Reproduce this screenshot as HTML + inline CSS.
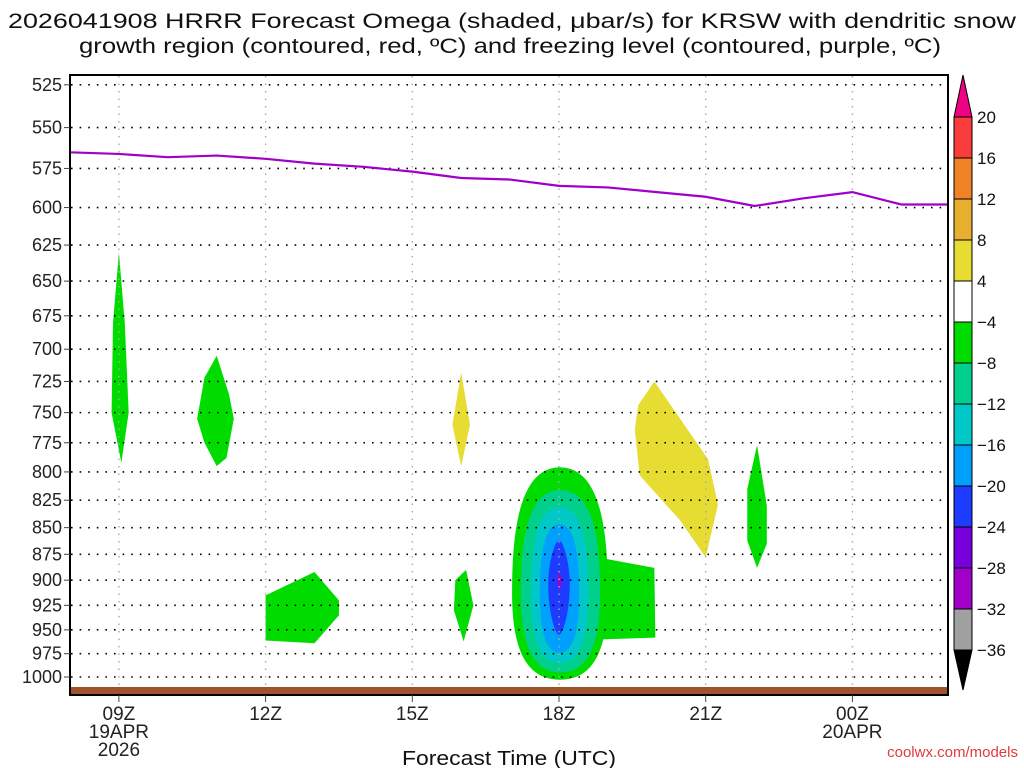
<!DOCTYPE html>
<html><head><meta charset="utf-8"><style>
body{margin:0;background:#fff;}
svg{display:block;font-family:"Liberation Sans",sans-serif;}
</style></head><body>
<svg id="chart" width="1024" height="768" viewBox="0 0 1024 768">
<text x="512" y="28" font-size="21" text-anchor="middle" fill="#111" textLength="1008" lengthAdjust="spacingAndGlyphs">2026041908 HRRR Forecast Omega (shaded, μbar/s) for KRSW with dendritic snow</text>
<text x="510" y="53" font-size="21" text-anchor="middle" fill="#111" textLength="862" lengthAdjust="spacingAndGlyphs">growth region (contoured, red, ºC) and freezing level (contoured, purple, ºC)</text>
<g id="shades"></g>
<g id="grid"></g>
<g id="flines"></g>
<rect x="71" y="687" width="876" height="7" fill="#a0522d"/>
<rect x="70" y="75" width="878" height="620" fill="none" stroke="#000" stroke-width="2"/>
<g id="axes"></g>
<g id="cbar"></g>
<text x="509" y="765" font-size="20" text-anchor="middle" fill="#111" textLength="214" lengthAdjust="spacingAndGlyphs">Forecast Time (UTC)</text>
<text x="1018" y="757" font-size="15" text-anchor="end" fill="#e03c3c">coolwx.com/models</text>
</svg>
<script>
const pLevels=[525,550,575,600,625,650,675,700,725,750,775,800,825,850,875,900,925,950,975,1000];
const xTickHours=[9,12,15,18,21,24];
const xTickLabels=["09Z","12Z","15Z","18Z","21Z","00Z"];
const xTickSub=[["19APR","2026"],[],[],[],[],["20APR"]];
const fzHours=[8,9,10,11,12,13,14,15,16,17,18,19,20,21,22,23,24,25,25.95];
const fzPres=[565,566,568,567,569,572,574,577,581,582,586,587,590,593,599,594,590,598,598];
const cbLevels=["20","16","12","8","4","−4","−8","−12","−16","−20","−24","−28","−32","−36"];
const cbColors=["#fa3c3c","#f08228","#e6af2d","#e6dc32","#ffffff","#00dc00","#00d08c","#00c8c8","#00a0ff","#1e3cff","#7800dc","#a000c8","#a0a0a0"];
const polyColors=["#00dc00","#00dc00","#e6dc32","#00dc00","#00dc00","#e6dc32","#00dc00","#00dc00"];
const polys=[
 [[9,630],[9.12,680],[9.2,750],[9.05,792],[8.85,750],[8.88,680]],
 [[11,705],[11.25,735],[11.35,755],[11.2,788],[11.0,795],[10.75,775],[10.6,755],[10.75,722]],
 [[16,718],[16.18,760],[16.0,795],[15.82,760]],
 [[16.1,890],[16.25,925],[16.05,962],[15.85,930],[15.88,900]],
 [[12,915],[13,892],[13.5,920],[13.5,935],[13,964],[12,961]],
 [[19.95,725],[21.05,789],[21.25,829],[21.0,878],[20.47,843],[19.65,803],[19.55,764],[19.62,744]],
 [[22.05,777],[22.25,830],[22.25,865],[22.05,888],[21.85,862],[21.85,815]],
 [[18.8,878],[19.95,888],[19.97,958],[18.8,960]]
];
const lensColors=["#00dc00","#00d08c","#00c8c8","#00a0ff","#1e3cff","#a000c8"];
const lensL=[17.04,17.22,17.43,17.61,17.78,17.97];
const lensR=[19.0,18.84,18.6,18.41,18.22,18.05];
const lensTop=[796,816,831,847,862,893];
const lensBot=[1003,995,985,974,955,910];
const lensMid=[912,912,912,912,905,900];

const X=h=>70+(h-8)*48.9;
const Y=p=>677-Math.log(1000/p)*919;
const NS="http://www.w3.org/2000/svg";
function mk(tag,attrs,parent){const e=document.createElementNS(NS,tag);for(const k in attrs)e.setAttribute(k,attrs[k]);parent.appendChild(e);return e;}
const gShades=document.getElementById('shades'),gGrid=document.getElementById('grid'),gLines=document.getElementById('flines'),gAxes=document.getElementById('axes'),gCbar=document.getElementById('cbar');

lensColors.forEach((c,i)=>{
 const xl=X(lensL[i]),xr=X(lensR[i]),xc=(xl+xr)/2,yt=Y(lensTop[i]),yb=Y(lensBot[i]),ym=Y(lensMid[i]);
 const k=i>=4?0.35:0.8;
 const d=`M${xc},${yt} C${xc+(xr-xc)*k},${yt} ${xr},${ym-(ym-yt)*0.55} ${xr},${ym} C${xr},${ym+(yb-ym)*0.55} ${xc+(xr-xc)*k},${yb} ${xc},${yb} C${xc-(xc-xl)*k},${yb} ${xl},${ym+(yb-ym)*0.55} ${xl},${ym} C${xl},${ym-(ym-yt)*0.55} ${xc-(xc-xl)*k},${yt} ${xc},${yt}Z`;
 const e=mk('path',{d:d,fill:c},gShades);
 
 
 if(i===0){
  const r=mk('polygon',{points:polys[7].map(q=>X(q[0])+','+Y(q[1])).join(' '),fill:polyColors[7]},gShades);
  
  
 }
});
polys.forEach((pl,i)=>{
 if(i===7)return;
 const e=mk('polygon',{points:pl.map(q=>X(q[0])+','+Y(q[1])).join(' '),fill:polyColors[i]},gShades);
 
 
});

pLevels.forEach(p=>{
 const y=Y(p);
 const l=mk('line',{x1:71,x2:947,y1:y,y2:y,stroke:'#000','stroke-width':1.6,'stroke-dasharray':'1.6 7'},gGrid);
 
 
 const t=mk('line',{x1:64,x2:70,y1:y,y2:y,stroke:'#444','stroke-width':1},gAxes);
 
 
 const tx=mk('text',{x:62,y:y+6,'font-size':18,'text-anchor':'end',fill:'#222'},gAxes);
 tx.textContent=p;
 
 
});
xTickHours.forEach((h,i)=>{
 const x=X(h);
 const l=mk('line',{x1:x,x2:x,y1:76,y2:694,stroke:'#aaa','stroke-width':1.4,'stroke-dasharray':'1.5 6'},gGrid);
 
 
 const t=mk('line',{x1:x,x2:x,y1:695,y2:702,stroke:'#444','stroke-width':1},gAxes);
 
 
 [xTickLabels[i]].concat(xTickSub[i]).forEach((s,j)=>{
  const tx=mk('text',{x:x,y:720+j*18,'font-size':19,'text-anchor':'middle',fill:'#222'},gAxes);
  tx.textContent=s;
  
  
 });
});
const fl=mk('polyline',{points:fzHours.map((h,i)=>X(h)+','+Y(fzPres[i])).join(' '),fill:'none',stroke:'#a000c8','stroke-width':2.2},gLines);



const cx=954,cw=18,y0=117,step=41;
const cbTop=mk('polygon',{points:`${cx},${y0} ${cx+cw},${y0} ${cx+cw/2},75`,fill:'#f00082',stroke:'#000'},gCbar);


cbColors.forEach((c,i)=>{
 const r=mk('rect',{x:cx,y:y0+i*step,width:cw,height:step,fill:c,stroke:'#000','stroke-width':1},gCbar);
 
 
});
const yb0=y0+cbColors.length*step;
const cbBot=mk('polygon',{points:`${cx},${yb0} ${cx+cw},${yb0} ${cx+cw/2},690`,fill:'#000',stroke:'#000'},gCbar);


cbLevels.forEach((s,i)=>{
 const t=mk('text',{x:977,y:y0+i*step+6,'font-size':17,fill:'#111'},gCbar);
 t.textContent=s;
 
 
});
</script>
</body></html>
